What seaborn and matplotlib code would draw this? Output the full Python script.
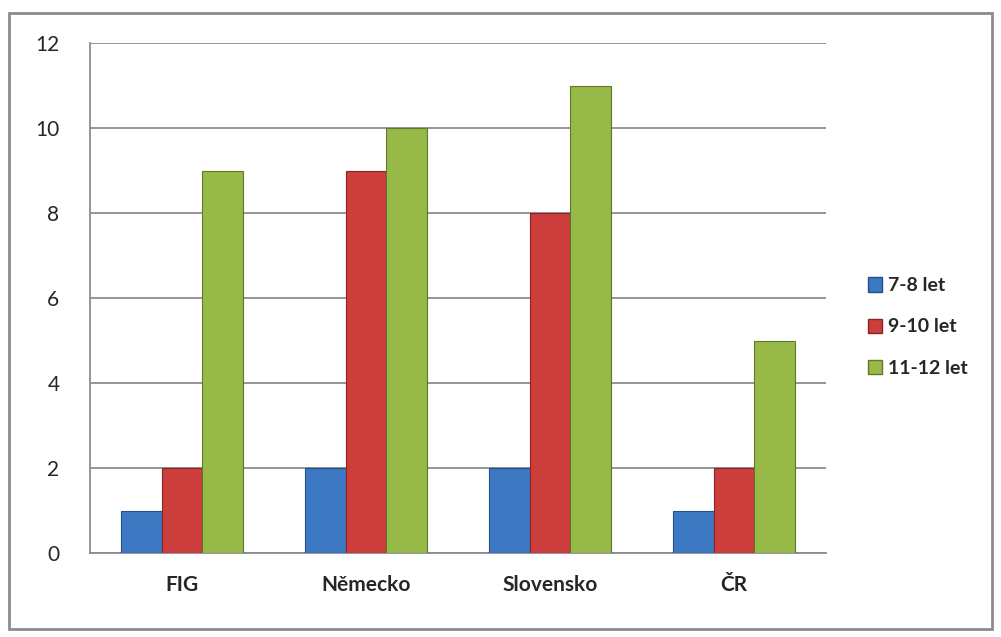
import pandas as pd
import numpy as np
import matplotlib.pyplot as plt
import matplotlib.patches as mpatches
import seaborn as sns

# data
categories = ['FIG', 'Německo', 'Slovensko', 'ČR']
series_names = ['7-8 let', '9-10 let', '11-12 let']
vals_7_8 = [1, 2, 2, 1]
vals_9_10 = [2, 9, 8, 2]
vals_11_12 = [9, 10, 11, 5]
y_ticks = [0, 2, 4, 6, 8, 10, 12]

palette = ['#3D78C2', '#CC3E3B', '#96B948']
edges = ['#24508A', '#8A2422', '#5F7A2A']

df = pd.DataFrame({
    'kat': categories * 3,
    'skup': [s for s in series_names for _ in categories],
    'val': vals_7_8 + vals_9_10 + vals_11_12,
})

sns.set_style('white')
plt.rcParams['font.family'] = ['Lato', 'DejaVu Sans']

fig = plt.figure(figsize=(10.01, 6.37), dpi=100)
ax = fig.add_axes([90 / 1001, 1 - 553 / 637, (826 - 90) / 1001, (553 - 43) / 637])

sns.barplot(data=df, x='kat', y='val', hue='skup', hue_order=series_names,
            palette=palette, saturation=1, width=0.665, ax=ax, legend=False, zorder=3)

for i, container in enumerate(ax.containers):
    for bar in container:
        bar.set_edgecolor(edges[i])
        bar.set_linewidth(0.8)

ax.set_ylim(0, 12)
ax.set_yticks(y_ticks)
ax.set_xlim(-0.5, 3.5)
ax.yaxis.grid(True, color='#8C8C8C', lw=1.3, zorder=0)
ax.set_axisbelow(True)
ax.set_xlabel('')
ax.set_ylabel('')
for s in ['top', 'right']:
    ax.spines[s].set_visible(False)
for s in ['left', 'bottom']:
    ax.spines[s].set_color('#8C8C8C')
    ax.spines[s].set_linewidth(1.3)

ax.tick_params(axis='y', length=8, width=1.3, color='#8C8C8C', labelsize=15, pad=14)
ax.tick_params(axis='x', length=0, labelsize=15, pad=16)
for lab in ax.get_xticklabels():
    lab.set_fontweight('bold')
# tick marks between categories
ax.set_xticks(np.arange(-0.5, 4.0, 1.0), minor=True)
ax.tick_params(axis='x', which='minor', length=8, width=1.3, color='#8C8C8C')

handles = [mpatches.Patch(facecolor=palette[i], edgecolor=edges[i], label=series_names[i])
           for i in range(3)]
fig.legend(handles=handles, loc='center left', bbox_to_anchor=(850 / 1001, 1 - 327 / 637),
           frameon=False, prop={'weight': 'bold', 'size': 14},
           handlelength=0.75, handleheight=0.75, handletextpad=0.3, labelspacing=1.25)

# outer chart border
fig.add_artist(mpatches.Rectangle((9 / 1001, 1 - 629 / 637), 983 / 1001, 616 / 637,
                                  transform=fig.transFigure, fill=False,
                                  edgecolor='#8C8C8C', lw=2))

fig.savefig('out.png', dpi=100)
